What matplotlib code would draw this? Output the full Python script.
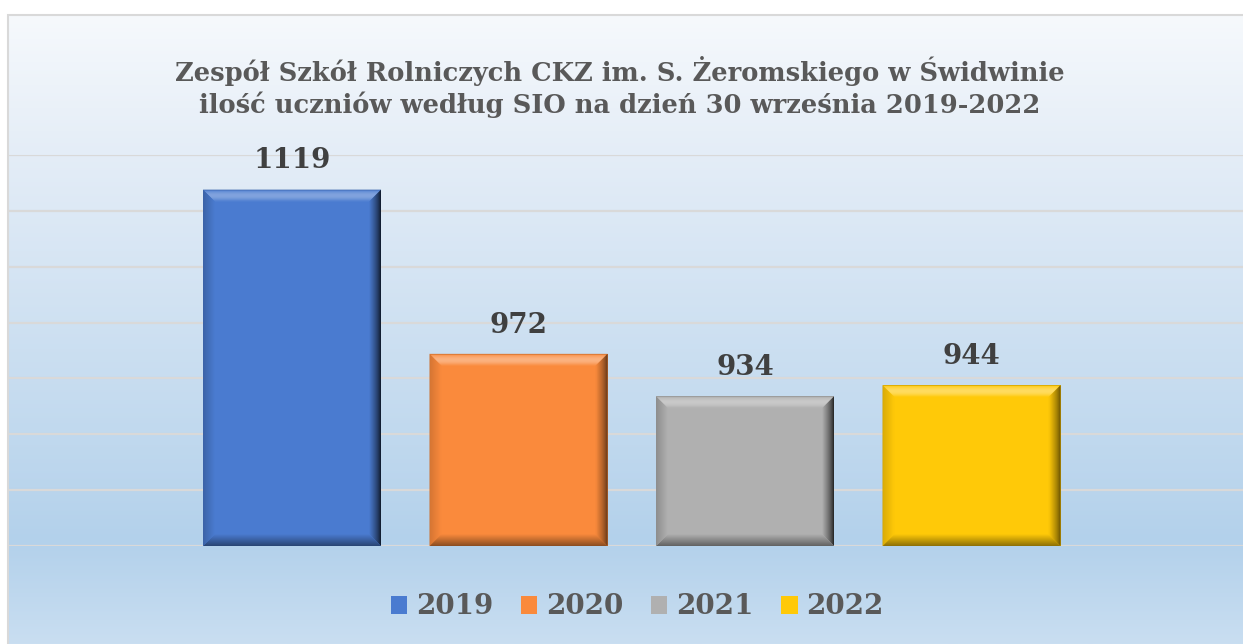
import numpy as np
import matplotlib
matplotlib.use("Agg")
import matplotlib.pyplot as plt
from matplotlib.colors import LinearSegmentedColormap, to_rgb
from matplotlib.patches import Polygon, Rectangle, Patch

# data
years = ["2019", "2020", "2021", "2022"]
students = [1119, 972, 934, 944]
colors = ["#4a7bd0", "#fa8a3c", "#b0b0b0", "#ffc908"]

title = ("Zespół Szkół Rolniczych CKZ im. S. Żeromskiego w Świdwinie\n"
         "ilość uczniów według SIO na dzień 30 września 2019-2022")

W, H = 1243, 644
plt.rcParams["font.family"] = ["DejaVu Serif"]

fig = plt.figure(figsize=(W / 100, H / 100), dpi=100)
fig.patch.set_facecolor("white")

# chart area background (vertical gradient)
bg = fig.add_axes([8 / W, 0, 1 - 8 / W, (H - 15) / H], zorder=0)
cmap = LinearSegmentedColormap.from_list(
    "bg", [(0.0, "#f6f9fc"), (0.22, "#e4edf7"), (0.84, "#b3d1eb"), (1.0, "#c9def1")])
bg.imshow(np.linspace(0, 1, 256).reshape(-1, 1), aspect="auto", cmap=cmap,
          extent=[0, 1, 0, 1], origin="upper")
bg.set_xlim(0, 1)
bg.set_ylim(0, 1)
bg.axis("off")
fig.patches.append(Rectangle((8 / W, -0.01), 1, (H - 15) / H + 0.01, transform=fig.transFigure,
                             fill=False, edgecolor="#d9d9d9", lw=1.5, zorder=0.5))

ax = fig.add_axes([8 / W, 98 / H, (W - 8) / W, 391 / H], zorder=1)
ax.patch.set_alpha(0)
x = np.arange(len(years))
xmin, xmax = -284 / 226.5, (W - 8 - 284) / 226.5
ax.set_xlim(xmin, xmax)
ax.set_ylim(800, 1150)
ax.set_yticks(np.arange(800, 1151, 50))
ax.yaxis.grid(True, color="#d9d9d9", lw=1.6)
ax.set_axisbelow(True)
ax.tick_params(left=False, bottom=False, labelleft=False, labelbottom=False)
for s in ax.spines.values():
    s.set_visible(False)

width = 178 / 226.5
bars = ax.bar(x, [v - 800 for v in students], bottom=800, width=width,
              color=colors, zorder=2)

# bevel edges on each bar
px_x = (xmax - xmin) / (W - 8)
px_y = 350 / 391
bev = 12
n = 12


def shade(c, f):
    c = np.array(to_rgb(c))
    if f >= 1:
        return tuple(c + (1 - c) * (f - 1))
    return tuple(c * f)


for b, c in zip(bars, colors):
    x0, y0 = b.get_x(), b.get_y()
    x1, y1 = x0 + b.get_width(), y0 + b.get_height()
    for k in range(n):
        t0, t1 = k / n, (k + 1) / n
        o = [x0 + t0 * bev * px_x, y0 + t0 * bev * px_y, x1 - t0 * bev * px_x, y1 - t0 * bev * px_y]
        i = [x0 + t1 * bev * px_x, y0 + t1 * bev * px_y, x1 - t1 * bev * px_x, y1 - t1 * bev * px_y]
        tm = (t0 + t1) / 2
        top_f = 1 + 0.4 * np.sin(np.pi * tm) if tm > 0.08 else 0.85
        right_f = 0.15 + 0.85 * tm ** 0.7
        bot_f = 0.55 + 0.45 * tm
        left_f = 0.8 + 0.2 * tm
        sides = [
            ([(o[0], o[3]), (o[2], o[3]), (i[2], i[3]), (i[0], i[3])], top_f),
            ([(o[2], o[3]), (o[2], o[1]), (i[2], i[1]), (i[2], i[3])], right_f),
            ([(o[0], o[1]), (o[2], o[1]), (i[2], i[1]), (i[0], i[1])], bot_f),
            ([(o[0], o[1]), (o[0], o[3]), (i[0], i[3]), (i[0], i[1])], left_f),
        ]
        for pts, f in sides:
            ax.add_patch(Polygon(pts, closed=True, facecolor=shade(c, f),
                                 edgecolor="none", zorder=3))

for xi, v in zip(x, students):
    ax.annotate(str(v), (xi, v), xytext=(0, 11), textcoords="offset points",
                ha="center", va="bottom", fontsize=20, fontweight="bold", color="#404040")

fig.text(620 / W, 1 - 87 / H, title, ha="center", va="center", fontsize=18.5,
         fontweight="bold", color="#595959", linespacing=1.3)

handles = [Patch(facecolor=c, edgecolor="none") for c in colors]
leg = fig.legend(handles, years, loc="center", bbox_to_anchor=(637 / W, 1 - 607 / H),
                 ncol=4, frameon=False, handlelength=0.6, handleheight=0.6,
                 handletextpad=0.3, columnspacing=1.0,
                 prop={"weight": "bold", "size": 20})
for t in leg.get_texts():
    t.set_color("#595959")

fig.savefig("out.png", dpi=100)
